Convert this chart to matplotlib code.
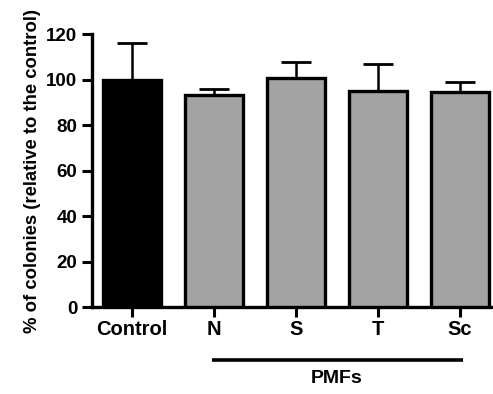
import matplotlib.pyplot as plt
import matplotlib.transforms as mtransforms
import numpy as np

plt.rcParams['font.family'] = ['Liberation Sans', 'DejaVu Sans']
plt.rcParams['font.weight'] = 'bold'

groups = ['Control', 'N', 'S', 'T', 'Sc']
means = [100, 93, 100.5, 95, 94.5]
errs = [16, 3, 7, 12, 4.5]
colors = ['black', '#a3a3a3', '#a3a3a3', '#a3a3a3', '#a3a3a3']

fig = plt.figure(figsize=(4.93, 3.94), dpi=100)
ax = fig.add_axes([0.1866, 0.2208, 0.8114, 0.6929])

x = np.arange(len(groups))
ax.bar(x, means, width=0.7, color=colors, edgecolor='black', linewidth=2.4, zorder=3)
ax.errorbar(x, means, yerr=[np.zeros(len(errs)), errs], fmt='none', ecolor='black',
            elinewidth=1.8, capsize=11, capthick=2.0, zorder=2)

ax.set_xlim(-0.488, 4.39)
ax.set_ylim(0, 120)
ax.set_yticks(range(0, 121, 20))
ax.set_xticks(x)
ax.set_xticklabels(groups)
ax.tick_params(axis='both', width=2.2, length=7.5, pad=2)
ax.tick_params(axis='x', labelsize=14.5)
ax.tick_params(axis='y', labelsize=13.5, pad=3)
for lab in ax.get_xticklabels() + ax.get_yticklabels():
    lab.set_fontweight('bold')

for s in ['top', 'right']:
    ax.spines[s].set_visible(False)
for s in ['left', 'bottom']:
    ax.spines[s].set_linewidth(2.4)

ax.set_ylabel('% of colonies (relative to the control)', fontsize=13.3, fontweight='bold', labelpad=4)

# PMFs bracket under the treatment groups
trans = mtransforms.blended_transform_factory(ax.transData, fig.transFigure)
ax.plot([0.976, 4.04], [0.0863, 0.0863], color='black', linewidth=2.6,
        transform=trans, clip_on=False, solid_capstyle='butt')
ax.text(2.5, 0.0406, 'PMFs', transform=trans, ha='center', va='center',
        fontsize=14, fontweight='bold')

fig.savefig('out.png', dpi=100)
